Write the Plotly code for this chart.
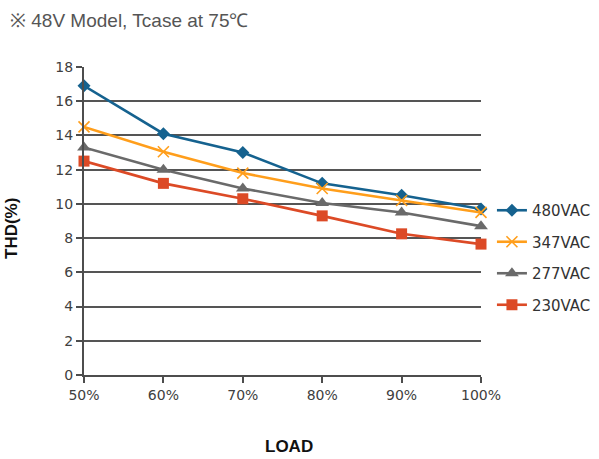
import plotly.graph_objects as go

loads = [50, 60, 70, 80, 90, 100]
tick_labels = ["50%", "60%", "70%", "80%", "90%", "100%"]
series_names = ["480VAC", "347VAC", "277VAC", "230VAC"]
thd_480 = [16.9, 14.1, 13.0, 11.2, 10.5, 9.7]
thd_347 = [14.5, 13.05, 11.8, 10.9, 10.2, 9.5]
thd_277 = [13.3, 12.0, 10.9, 10.05, 9.5, 8.7]
thd_230 = [12.5, 11.2, 10.3, 9.3, 8.25, 7.65]

colors = ["#15628f", "#ff9e1b", "#6a6a6a", "#dc4a26"]
symbols = ["diamond", "x-thin-open", "triangle-up", "square"]
sizes = [10, 11, 12, 11]
values = [thd_480, thd_347, thd_277, thd_230]

fig = go.Figure()
for i, (name, vals) in enumerate(zip(series_names, values)):
    mk = dict(symbol=symbols[i], size=sizes[i], color=colors[i])
    if symbols[i] == "x-thin-open":
        mk["line"] = dict(color=colors[i], width=1.6)
    fig.add_trace(go.Scatter(
        x=loads, y=vals, name=name, mode="lines+markers",
        line=dict(color=colors[i], width=2.6),
        marker=mk, legendgroup=name, cliponaxis=False,
    ))

title_font = dict(family="Liberation Sans Narrow, Liberation Sans, Arial", size=17, color="#111111")

# plot area: x 84..481, y 67..375 (page body margin removed below)
fig.update_layout(
    width=599, height=459,
    margin=dict(l=84, r=118, t=67, b=84, autoexpand=False),
    paper_bgcolor="white", plot_bgcolor="white",
    title=dict(text="※ 48V Model, Tcase at 75℃", x=10/599, xref="container",
               xanchor="left", y=1 - 20/459, yref="container", yanchor="middle",
               font=dict(family="Liberation Sans Narrow, Liberation Sans, Arial", size=19, color="#555555")),
    showlegend=True,
    legend=dict(x=1.02 + 3/397, xanchor="left", y=(308 - 127) / 308, yanchor="top",
                font=dict(family="DejaVu Sans", size=15, color="#333333"),
                tracegroupgap=9, bgcolor="rgba(0,0,0,0)"),
    xaxis=dict(range=[50, 100], tickvals=loads, ticktext=tick_labels, automargin=False,
               showgrid=False, zeroline=False, showline=True, linecolor="#4d4d4d", linewidth=2,
               ticks="outside", ticklen=6, tickwidth=2, tickcolor="#4d4d4d",
               tickfont=dict(family="DejaVu Sans", size=14, color="#404040")),
    yaxis=dict(range=[0, 18], dtick=2, showgrid=True, gridcolor="#555555", gridwidth=2, automargin=False,
               zeroline=False, showline=True, linecolor="#4d4d4d", linewidth=2,
               ticks="outside", ticklen=6, tickwidth=2, tickcolor="#4d4d4d",
               tickfont=dict(family="DejaVu Sans", size=14, color="#404040")),
    annotations=[
        dict(text="<b>LOAD</b>", xref="paper", yref="paper", x=(289 - 84) / 397, y=(375 - 446) / 308,
             xanchor="center", yanchor="middle", showarrow=False, font=title_font),
        dict(text="<b>THD(%)</b>", xref="paper", yref="paper", x=(11 - 84) / 397, y=(375 - 229) / 308,
             xanchor="center", yanchor="middle", textangle=-90, showarrow=False, font=title_font),
    ],
)

fig.write_html("out.html", config={"displayModeBar": False},
               post_script="document.body.style.margin='0';")
